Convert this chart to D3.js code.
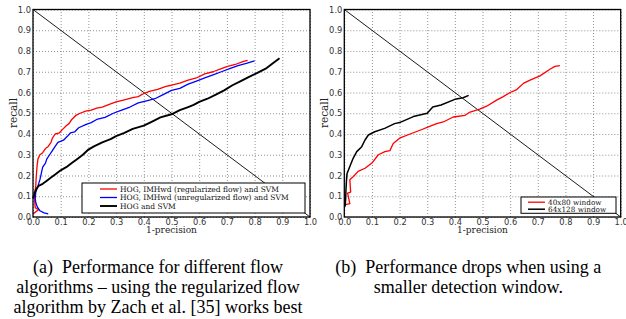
<!doctype html>
<html lang="en">
<head>
<meta charset="UTF-8">
<title>Recall vs 1-precision</title>
<style>
    body { margin: 0; background: #fff; }
    svg { display: block; }
    .cap { white-space: pre; }
</style>
</head>
<body>
<div id="chart"></div>
<script src="https://d3js.org/d3.v7.min.js"></script>
<script>

    // tick values shared by both axes
    const ticks = [0, 0.1, 0.2, 0.3, 0.4, 0.5, 0.6, 0.7, 0.8, 0.9, 1.0]
    const tickLabels = ['0.0', '0.1', '0.2', '0.3', '0.4', '0.5', '0.6', '0.7', '0.8', '0.9', '1.0']

    // (a) [1-precision, recall]
    const regFlow = [[0.000,0.015],[0.020,0.035],[0.008,0.045],[0.006,0.08],[0.007,0.12],[0.010,0.15],[0.012,0.20],
        [0.015,0.25],[0.018,0.28],[0.025,0.30],[0.035,0.31],[0.045,0.33],[0.055,0.34],[0.065,0.36],[0.070,0.38],
        [0.080,0.40],[0.095,0.405],[0.105,0.42],[0.120,0.44],[0.130,0.45],[0.140,0.47],[0.155,0.49],[0.170,0.50],
        [0.190,0.51],[0.210,0.515],[0.230,0.525],[0.250,0.53],[0.280,0.545],[0.300,0.555],[0.330,0.565],[0.360,0.575],
        [0.380,0.58],[0.400,0.595],[0.420,0.605],[0.450,0.615],[0.480,0.63],[0.500,0.635],[0.530,0.645],[0.560,0.66],
        [0.590,0.67],[0.620,0.69],[0.650,0.70],[0.680,0.715],[0.700,0.725],[0.730,0.735],[0.760,0.75],[0.775,0.755]]
    const unregFlow = [[0.055,0.015],[0.040,0.02],[0.025,0.03],[0.015,0.05],[0.010,0.07],[0.008,0.09],[0.010,0.12],
        [0.018,0.15],[0.025,0.18],[0.030,0.21],[0.035,0.24],[0.045,0.26],[0.050,0.28],[0.060,0.30],[0.070,0.32],
        [0.080,0.34],[0.090,0.36],[0.110,0.37],[0.125,0.39],[0.135,0.405],[0.150,0.41],[0.165,0.43],[0.190,0.445],
        [0.210,0.455],[0.230,0.47],[0.260,0.48],[0.290,0.50],[0.320,0.515],[0.350,0.53],[0.380,0.55],[0.410,0.56],
        [0.440,0.57],[0.470,0.59],[0.500,0.61],[0.530,0.62],[0.560,0.64],[0.590,0.655],[0.620,0.67],[0.650,0.685],
        [0.680,0.70],[0.710,0.715],[0.740,0.73],[0.770,0.74],[0.800,0.752]]
    const hogOnly = [[0.000,0.09],[0.005,0.11],[0.010,0.13],[0.020,0.15],[0.035,0.16],[0.050,0.175],[0.065,0.19],
        [0.080,0.205],[0.100,0.225],[0.120,0.24],[0.140,0.26],[0.160,0.28],[0.180,0.30],[0.200,0.325],[0.220,0.34],
        [0.250,0.36],[0.280,0.375],[0.300,0.39],[0.330,0.405],[0.360,0.425],[0.400,0.44],[0.430,0.46],[0.460,0.48],
        [0.500,0.495],[0.530,0.515],[0.560,0.53],[0.580,0.54],[0.600,0.555],[0.630,0.57],[0.660,0.59],[0.690,0.61],
        [0.720,0.635],[0.750,0.655],[0.780,0.675],[0.810,0.695],[0.840,0.715],[0.860,0.735],[0.890,0.765]]

    // (b)
    const win40x80 = [[0.000,0.058],[0.020,0.064],[0.012,0.115],[0.023,0.12],[0.020,0.18],[0.033,0.195],[0.050,0.22],
        [0.075,0.235],[0.100,0.26],[0.123,0.30],[0.147,0.315],[0.165,0.32],[0.177,0.354],[0.200,0.38],[0.238,0.40],
        [0.274,0.418],[0.304,0.434],[0.334,0.45],[0.358,0.458],[0.394,0.482],[0.437,0.49],[0.455,0.506],[0.490,0.52],
        [0.515,0.534],[0.551,0.563],[0.575,0.58],[0.600,0.60],[0.624,0.614],[0.648,0.644],[0.672,0.66],[0.708,0.68],
        [0.744,0.712],[0.762,0.726],[0.780,0.73]]
    const win64x128 = [[0.003,0.05],[0.005,0.09],[0.006,0.13],[0.008,0.178],[0.010,0.21],[0.020,0.243],[0.032,0.283],
        [0.045,0.315],[0.063,0.339],[0.075,0.371],[0.087,0.395],[0.110,0.411],[0.146,0.427],[0.182,0.45],[0.200,0.455],
        [0.250,0.484],[0.300,0.50],[0.320,0.53],[0.350,0.54],[0.400,0.567],[0.430,0.575],[0.450,0.586]]

    const diagonal = [[0, 1], [1, 0]]

    const legendA = ['HOG, IMHwd (regularized flow) and SVM', 'HOG, IMHwd (unregularized flow) and SVM', 'HOG and SVM']
    const legendB = ['40x80 window', '64x128 window']
    const captionA = ['(a)  Performance for different flow', 'algorithms \u2013 using the regularized flow',
        'algorithm by Zach et al. [35] works best']
    const captionB = ['(b)  Performance drops when using a', 'smaller detection window.']

    var width = 626, height = 319
    var svg = d3.select('#chart')
        .append('svg')
            .attr('width', width)
            .attr('height', height)
    svg.append('rect').attr('width', width).attr('height', height).attr('fill', '#fff')

    function panel(x0, x1, series, legend) {
        var x = d3.scaleLinear().domain([0, 1]).range([x0, x1])
        var y = d3.scaleLinear().domain([0, 1]).range([217, 9.5])
        var g = svg.append('g')

        // dotted grid
        g.append('g')
            .attr('transform', 'translate(0,217)')
            .call(d3.axisBottom(x).tickValues(ticks).tickSize(-207.5).tickFormat(''))
            .call(a => a.select('.domain').remove())
            .selectAll('line').attr('stroke', '#777').attr('stroke-width', 0.8).attr('stroke-dasharray', '1,2')
        g.append('g')
            .attr('transform', 'translate(' + x0 + ',0)')
            .call(d3.axisLeft(y).tickValues(ticks).tickSize(-(x1 - x0)).tickFormat(''))
            .call(a => a.select('.domain').remove())
            .selectAll('line').attr('stroke', '#777').attr('stroke-width', 0.8).attr('stroke-dasharray', '1,2')

        // tick labels
        var xa = g.append('g')
            .attr('transform', 'translate(0,217)')
            .call(d3.axisBottom(x).tickValues(ticks).tickSize(0).tickPadding(7.5)
                .tickFormat((d, i) => tickLabels[i]))
        var ya = g.append('g')
            .attr('transform', 'translate(' + x0 + ',0)')
            .call(d3.axisLeft(y).tickValues(ticks).tickSize(0).tickPadding(2)
                .tickFormat((d, i) => tickLabels[i]))
        ;[xa, ya].forEach(a => {
            a.select('.domain').remove()
            a.selectAll('text').attr('font-family', 'DejaVu Sans').attr('font-size', 8.3).attr('fill', '#333')
        })
        xa.selectAll('text').attr('dy', 0)

        var line = d3.line().x(d => x(d[0])).y(d => y(d[1]))
        g.append('path')
            .attr('d', line(diagonal))
            .attr('fill', 'none').attr('stroke', '#000').attr('stroke-width', 0.9)

        series.forEach(s => {
            g.append('path')
                .attr('d', line(s.data))
                .attr('fill', 'none')
                .attr('stroke', s.color)
                .attr('stroke-width', s.w)
                .attr('stroke-linejoin', 'round')
        })

        // frame
        g.append('rect')
            .attr('x', x0).attr('y', 9.5)
            .attr('width', x1 - x0).attr('height', 207.5)
            .attr('fill', 'none').attr('stroke', '#000').attr('stroke-width', 1.3)

        g.append('text')
            .attr('x', (x0 + x1) / 2).attr('y', 233)
            .attr('text-anchor', 'middle')
            .attr('font-family', 'DejaVu Serif').attr('font-size', 9)
            .attr('fill', '#222')
            .text('1-precision')
        g.append('text')
            .attr('transform', 'translate(' + (x0 - 16.5) + ',113) rotate(-90)')
            .attr('text-anchor', 'middle')
            .attr('font-family', 'DejaVu Serif').attr('font-size', 10.5)
            .attr('fill', '#222')
            .text('recall')

        // legend
        var lg = g.append('g')
        lg.append('rect')
            .attr('x', legend.x).attr('y', legend.y)
            .attr('width', legend.w).attr('height', legend.h)
            .attr('fill', '#fff').attr('stroke', '#000').attr('stroke-width', 1)
        series.forEach((s, i) => {
            var ry = legend.y + legend.first + i * legend.step
            lg.append('line')
                .attr('x1', legend.x + legend.pad).attr('x2', legend.x + legend.pad + 17)
                .attr('y1', ry).attr('y2', ry)
                .attr('stroke', s.color).attr('stroke-width', s.w)
            lg.append('text')
                .attr('x', legend.x + legend.pad + 20).attr('y', ry + 2.5)
                .attr('font-family', 'DejaVu Serif').attr('font-size', legend.fs)
                .attr('fill', '#111')
                .text(s.name)
        })
    }

    panel(33, 310, [
        {data: regFlow, color: '#ff0000', w: 1.3, name: legendA[0]},
        {data: unregFlow, color: '#0000ff', w: 1.3, name: legendA[1]},
        {data: hogOnly, color: '#000', w: 1.9, name: legendA[2]}
    ], {x: 82, y: 183, w: 223, h: 30, pad: 18, first: 6, step: 8.5, fs: 7.5})

    panel(344.3, 620.7, [
        {data: win40x80, color: '#ff0000', w: 1.3, name: legendB[0]},
        {data: win64x128, color: '#000', w: 1.5, name: legendB[1]}
    ], {x: 521, y: 197, w: 95, h: 16.3, pad: 7, first: 5.2, step: 7, fs: 7.3})

    // captions, centred under each sub-figure
    function caption(lines, cx) {
        lines.forEach((t, i) => {
            svg.append('text')
                .attr('class', 'cap')
                .attr('x', cx).attr('y', 273.3 + i * 20)
                .attr('text-anchor', 'middle')
                .attr('font-family', 'Liberation Serif').attr('font-size', 18)
                .attr('fill', '#000')
                .text(t)
        })
    }
    caption(captionA, 158)
    caption(captionB, 468.3)

</script>
</body>
</html>
